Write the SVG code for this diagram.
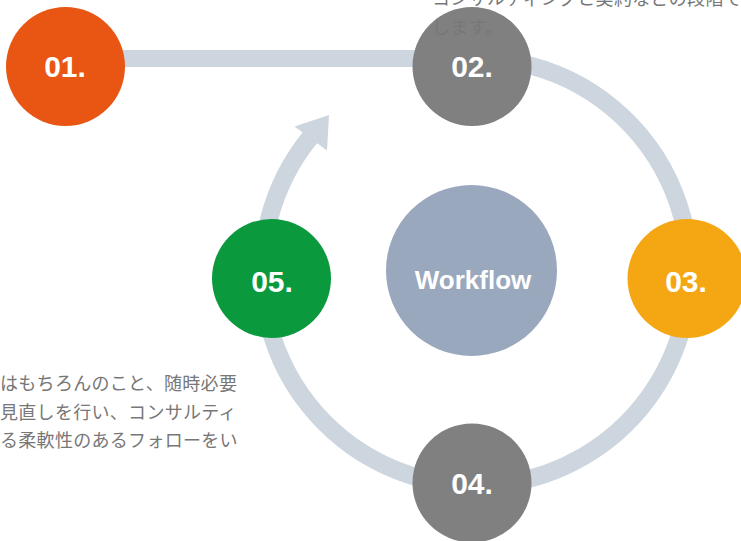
<svg xmlns="http://www.w3.org/2000/svg" width="741" height="541" viewBox="0 0 741 541">
<style>
.num{font-family:"Liberation Sans",Arial,sans-serif;font-weight:bold;font-size:30px;fill:#ffffff;text-anchor:middle}
.wf{font-family:"Liberation Sans",Arial,sans-serif;font-weight:bold;font-size:26px;fill:#ffffff;text-anchor:middle}
.jp{font-family:"Noto Sans CJK JP","Noto Sans",sans-serif;font-size:18px;fill:#777777;letter-spacing:0.3px}
.ring{fill:none;stroke:#CDD5DF;stroke-width:18}
</style>
<rect width="741" height="541" fill="#ffffff"/>
<g id="connectors">
  <rect x="65" y="50" width="407" height="17" fill="#CDD5DF"/>
  <path class="ring" d="M 438.9 61.7 A 213.5 213.5 0 1 1 311.3 136.0"/>
  <polygon points="329,115 327,150.5 294.5,126.5" fill="#CDD5DF"/>
</g>
<g id="node-01">
  <circle cx="65.5" cy="66.5" r="59.5" fill="#E95513"/>
  <text class="num" x="65" y="77">01.</text>
</g>
<g id="node-02">
  <circle cx="472" cy="66.5" r="59.5" fill="#808080"/>
  <text class="num" x="472" y="77">02.</text>
</g>
<g id="node-03">
  <circle cx="687" cy="278.5" r="59.5" fill="#F5A713"/>
  <text class="num" x="686" y="291.5">03.</text>
</g>
<g id="node-04">
  <circle cx="472" cy="483" r="59.5" fill="#808080"/>
  <text class="num" x="472" y="494">04.</text>
</g>
<g id="node-05">
  <circle cx="271.5" cy="278.5" r="59.5" fill="#0A993D"/>
  <text class="num" x="272" y="291.5">05.</text>
</g>
<g id="node-workflow">
  <circle cx="471.5" cy="270.5" r="85.5" fill="#9AA8BE"/>
  <text class="wf" x="473" y="289">Workflow</text>
</g>
<g id="text-top">
  <text class="jp" x="432" y="5">コンサルティングと契約などの段階で</text>
  <text class="jp" x="432" y="33.5">します。</text>
</g>
<g id="text-left">
  <text class="jp" x="0" y="390">はもちろんのこと、随時必要</text>
  <text class="jp" x="0" y="418.5">見直しを行い、コンサルティ</text>
  <text class="jp" x="0" y="447">る柔軟性のあるフォローをい</text>
</g>
</svg>
